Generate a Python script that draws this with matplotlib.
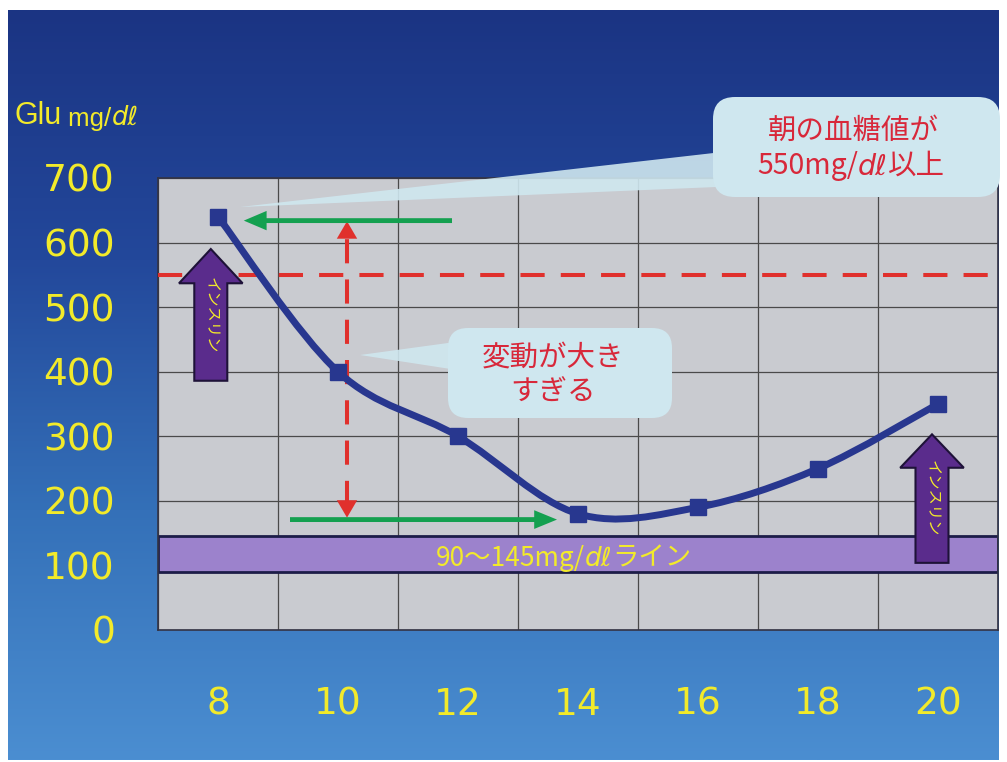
import numpy as np
import matplotlib
matplotlib.use("Agg")
import matplotlib.pyplot as plt
from matplotlib.path import Path
from matplotlib.patches import PathPatch, FancyArrow, FancyBboxPatch, Polygon
from matplotlib.colors import LinearSegmentedColormap

# blood glucose through the day
hours = [8, 10, 12, 14, 16, 18, 20]
glucose = [640, 400, 300, 180, 190, 250, 350]
xticks = [8, 10, 12, 14, 16, 18, 20]
yticks = [0, 100, 200, 300, 400, 500, 600, 700]

morning_limit = 550          # red dashed line
target_lo, target_hi = 90, 145   # target band
swing_x, swing_top, swing_bottom = 10.15, 633, 174
insulin_doses = [(7.88, 386, 590), (19.9, 104, 303)]   # x, base, tip

jp = ['Noto Sans CJK JP', 'DejaVu Sans']
num = ['DejaVu Sans']
yellow = '#f2ea2a'
red = '#d8283a'
navy = '#28378f'
green = '#14a050'
bubble = '#cfe7ef'

W, H = 1007, 762
fig = plt.figure(figsize=(W / 100, H / 100), dpi=100, facecolor='white')

# slide background
bg = fig.add_axes([0, 0, 1, 1], zorder=0)
bg.set_axis_off()
bg.set_xlim(0, W)
bg.set_ylim(H, 0)
cmap = LinearSegmentedColormap.from_list('slide', ['#1b3483', '#23489b', '#3470b8', '#4b8ed1'])
grad = np.linspace(0, 1, 256).reshape(-1, 1)
bg.imshow(grad, cmap=cmap, extent=(8, 999, 760, 10), aspect='auto')

ax = fig.add_axes([158 / W, 132 / H, 840 / W, 452 / H], zorder=1)
ax.set_facecolor('#c9cbd0')
ax.set_xlim(7, 21)
ax.set_ylim(0, 700)
ax.set_xticks(xticks)
ax.set_xticks(range(7, 22, 2), minor=True)
ax.set_yticks(yticks)
ax.grid(which='minor', axis='x', color='#4a4a4a', lw=0.9)
ax.grid(which='major', axis='y', color='#4a4a4a', lw=0.9)
ax.set_axisbelow(True)
ax.tick_params(which='both', length=0)
ax.tick_params(axis='y', pad=31, labelsize=27, labelcolor=yellow)
ax.tick_params(axis='x', pad=41, labelsize=27, labelcolor=yellow)
for lab in ax.get_xticklabels() + ax.get_yticklabels():
    lab.set_family(num)
for s in ax.spines.values():
    s.set_color('#333344')
    s.set_linewidth(1.2)


def chain(axes, x, y, parts, transform=None, **kw):
    """Write text pieces one after another, each with its own style."""
    prev = None
    for s, extra in parts:
        opts = dict(kw)
        opts.update(extra)
        if prev is None:
            prev = axes.text(x, y, s, ha='left', va='bottom',
                             transform=transform or axes.transData, **opts)
        else:
            prev = axes.annotate(s, xy=(1, 0), xycoords=prev, ha='left', va='bottom', **opts)
    return prev


obl = {'family': ['DejaVu Sans'], 'style': 'italic'}

# target band
ax.axhspan(target_lo, target_hi, facecolor='#9c82cc', edgecolor='#1c1c48', lw=2, zorder=2)
chain(ax, 11.63, 90, [('90〜145mg/', {}), ('dℓ', obl), ('ライン', {})],
      color=yellow, fontsize=19, family=jp, zorder=3)

# morning limit
ax.axhline(morning_limit, color='#e0302c', lw=2.9, dashes=(6, 4), zorder=3)

# insulin arrows
for x, base, tip in insulin_doses:
    ax.add_patch(FancyArrow(x, base, 0, tip - base, width=0.55, head_width=1.06,
                            head_length=(tip - base) * 0.26, length_includes_head=True,
                            fc='#5a2c8c', ec='#1e1238', lw=1.5, zorder=4))
    ax.text(x, base + (tip - base) * 0.5, 'インスリン', rotation=-90, ha='center', va='center',
            color=yellow, fontsize=11, family=jp, zorder=5)

# swing arrow (dashed shaft, solid heads)
ax.plot([swing_x, swing_x], [swing_bottom + 20, swing_top - 20], color='#e0302c', lw=2.9,
        dashes=(6, 4), zorder=3)
for tip, d in [(swing_top, 1), (swing_bottom, -1)]:
    ax.add_patch(FancyArrow(swing_x, tip - d * 27, 0, d * 27, width=0.01, head_width=0.34,
                            head_length=27, length_includes_head=True, color='#e0302c',
                            lw=0, zorder=3))

# green range arrows
ax.add_patch(FancyArrow(11.9, 634, 8.43 - 11.9, 0, width=7.5, head_width=30, head_length=0.38,
                        length_includes_head=True, color=green, lw=0, zorder=4))
ax.add_patch(FancyArrow(9.2, 171, 13.65 - 9.2, 0, width=7.5, head_width=29, head_length=0.38,
                        length_includes_head=True, color=green, lw=0, zorder=4))


def smooth_path(xs, ys):
    pts = np.column_stack([xs, ys]).astype(float)
    verts = [pts[0]]
    codes = [Path.MOVETO]
    n = len(pts)
    for i in range(n - 1):
        p0 = pts[i - 1] if i > 0 else pts[i]
        p1, p2 = pts[i], pts[i + 1]
        p3 = pts[i + 2] if i + 2 < n else p2
        verts += [p1 + (p2 - p0) / 6, p2 - (p3 - p1) / 6, p2]
        codes += [Path.CURVE4] * 3
    return Path(verts, codes)


ax.add_patch(PathPatch(smooth_path(hours, glucose), fill=False, ec=navy, lw=5,
                       capstyle='round', joinstyle='round', zorder=6))
ax.plot(hours, glucose, 's', ms=12, color=navy, zorder=7)

# callouts drawn in pixel space on top
ov = fig.add_axes([0, 0, 1, 1], zorder=3)
ov.set_axis_off()
ov.patch.set_alpha(0)
ov.set_xlim(0, W)
ov.set_ylim(H, 0)

ov.add_patch(Polygon([(740, 150), (240, 207), (740, 186)], closed=True, fc=bubble, ec='none', alpha=0.9))
ov.add_patch(FancyBboxPatch((713, 97), 287, 100, boxstyle='round,pad=0,rounding_size=22',
                            fc=bubble, ec='none'))
ov.text(853, 131, '朝の血糖値が', ha='center', va='center', color=red, fontsize=20.5, family=jp)
chain(ov, 757, 181, [('550mg/', {}), ('dℓ', obl), ('以上', {})],
      color=red, fontsize=20.5, family=jp)

ov.add_patch(Polygon([(470, 340), (360, 355), (470, 372)], closed=True, fc=bubble, ec='none', alpha=0.9))
ov.add_patch(FancyBboxPatch((448, 328), 224, 90, boxstyle='round,pad=0,rounding_size=20',
                            fc=bubble, ec='none'))
ov.text(553, 359, '変動が大き', ha='center', va='center', color=red, fontsize=20.5, family=jp)
ov.text(553, 393, 'すぎる', ha='center', va='center', color=red, fontsize=20.5, family=jp)

chain(ov, 14, 131, [('Glu', {'fontsize': 22}), (' mg/', {}), ('dℓ', obl)],
      color=yellow, fontsize=18.5, family=['Liberation Sans', 'DejaVu Sans'])

fig.savefig('out.png', dpi=100, facecolor='white')
